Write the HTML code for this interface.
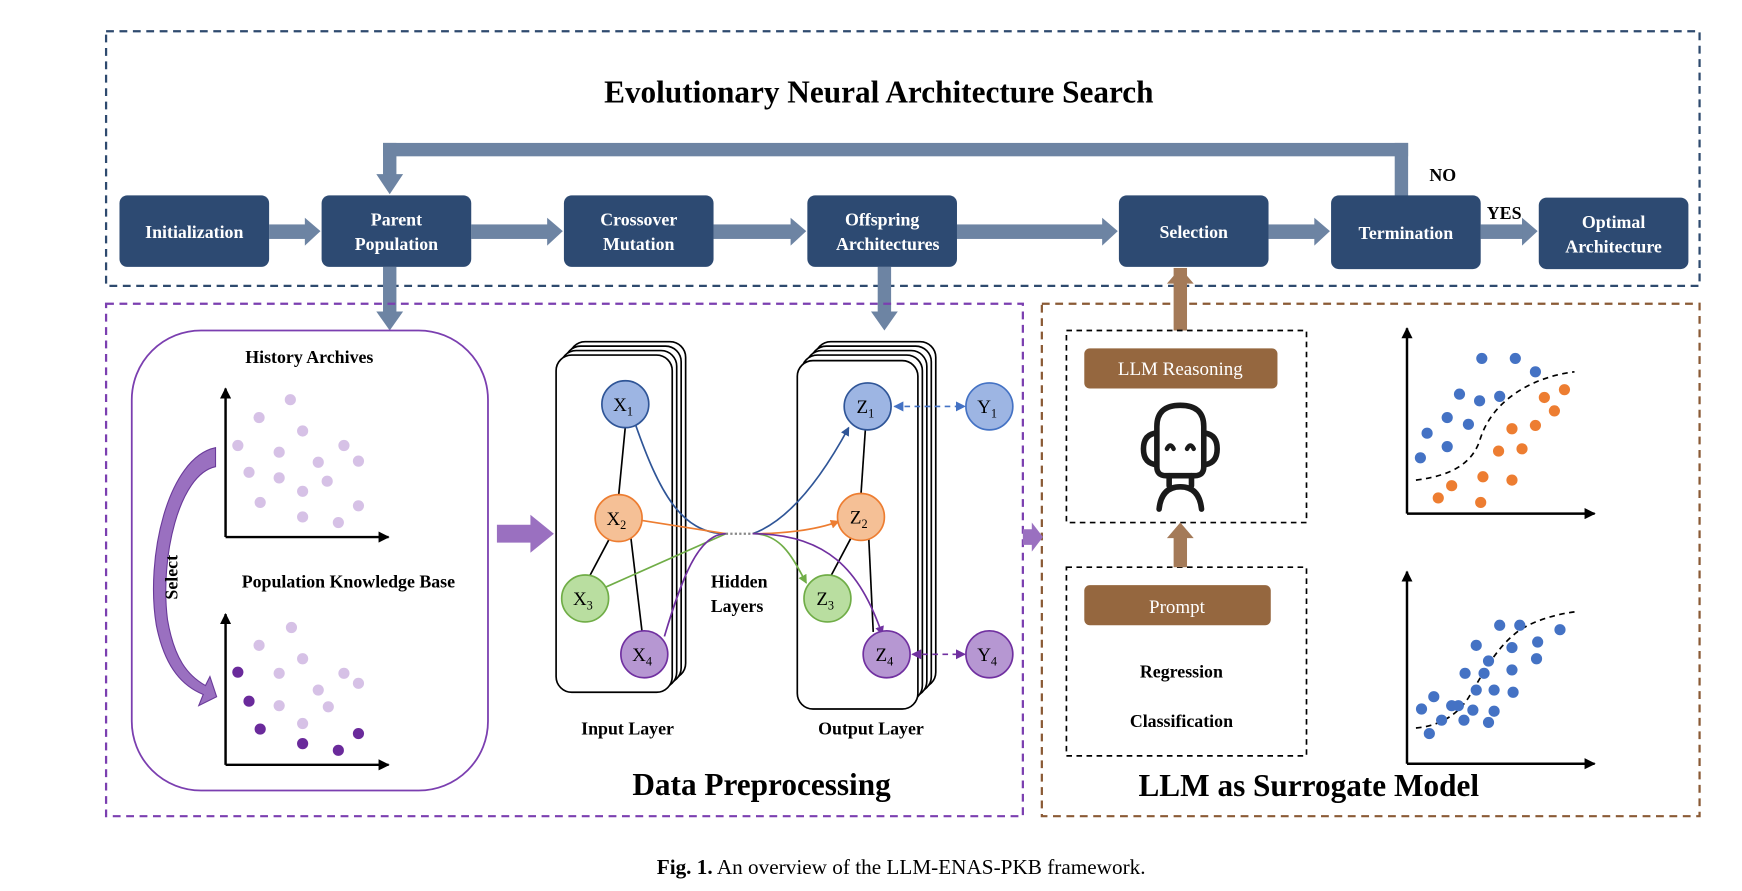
<!DOCTYPE html>
<html><head><meta charset="utf-8"><style>
html,body{margin:0;padding:0;background:#fff;}
svg{display:block;}
text{font-family:"Liberation Serif",serif;}
</style></head><body>
<svg width="1742" height="891" viewBox="0 0 1560 798" preserveAspectRatio="none" xmlns="http://www.w3.org/2000/svg">
<defs>
<marker id="ab" markerWidth="8" markerHeight="8" refX="7" refY="4" orient="auto" markerUnits="userSpaceOnUse"><path d="M0,0 L8,4 L0,8 z" fill="#2f5597"/></marker>
<marker id="ao" markerWidth="8" markerHeight="8" refX="7" refY="4" orient="auto" markerUnits="userSpaceOnUse"><path d="M0,0 L8,4 L0,8 z" fill="#ed7d31"/></marker>
<marker id="ag" markerWidth="8" markerHeight="8" refX="7" refY="4" orient="auto" markerUnits="userSpaceOnUse"><path d="M0,0 L8,4 L0,8 z" fill="#70ad47"/></marker>
<marker id="ap" markerWidth="8" markerHeight="8" refX="7" refY="4" orient="auto" markerUnits="userSpaceOnUse"><path d="M0,0 L8,4 L0,8 z" fill="#7030a0"/></marker>
<marker id="ak" markerWidth="10" markerHeight="10" refX="9" refY="5" orient="auto" markerUnits="userSpaceOnUse"><path d="M0,0 L10,5 L0,10 z" fill="#000"/></marker>
<marker id="abl" markerWidth="9" markerHeight="9" refX="8" refY="4.5" orient="auto-start-reverse" markerUnits="userSpaceOnUse"><path d="M0,0 L9,4.5 L0,9 z" fill="#4472c4"/></marker>
<marker id="apl" markerWidth="9" markerHeight="9" refX="8" refY="4.5" orient="auto-start-reverse" markerUnits="userSpaceOnUse"><path d="M0,0 L9,4.5 L0,9 z" fill="#7030a0"/></marker>
</defs>

<!-- top dashed box -->
<rect x="95" y="28" width="1427" height="228" fill="none" stroke="#2e4a6e" stroke-width="2" stroke-dasharray="7,5"/>
<text x="787" y="92" font-size="28" font-weight="bold" text-anchor="middle">Evolutionary Neural Architecture Search</text>

<!-- feedback loop -->
<g fill="#6d84a3">
<rect x="1249" y="128" width="12" height="48"/>
<rect x="343" y="128" width="918" height="12"/>
<rect x="343" y="128" width="12" height="30"/>
<polygon points="337,156 361,156 349,174"/>
<!-- horizontal arrows -->
<rect x="241" y="201" width="34" height="13"/><polygon points="273,195 273,220 287,207"/>
<rect x="422" y="201" width="70" height="13"/><polygon points="490,195 490,220 504,207"/>
<rect x="639" y="201" width="71" height="13"/><polygon points="708,195 708,220 722,207"/>
<rect x="857" y="201" width="132" height="13"/><polygon points="987,195 987,220 1001,207"/>
<rect x="1136" y="201" width="43" height="13"/><polygon points="1177,195 1177,220 1191,207"/>
<rect x="1326" y="201" width="39" height="13"/><polygon points="1363,195 1363,220 1377,207"/>
<!-- down arrows -->
<rect x="343" y="239" width="12" height="42"/><polygon points="337,279 361,279 349,296"/>
<rect x="786" y="239" width="12" height="42"/><polygon points="780,279 804,279 792,296"/>
</g>
<g fill="#2d4a72">
<rect x="107" y="175" width="134" height="64" rx="7"/>
<rect x="288" y="175" width="134" height="64" rx="7"/>
<rect x="505" y="175" width="134" height="64" rx="7"/>
<rect x="723" y="175" width="134" height="64" rx="7"/>
<rect x="1002" y="175" width="134" height="64" rx="7"/>
<rect x="1192" y="175" width="134" height="66" rx="7"/>
<rect x="1378" y="177" width="134" height="64" rx="7"/>
</g>
<g fill="#fff" font-size="16" font-weight="bold" text-anchor="middle">
<text x="174" y="213">Initialization</text>
<text x="355" y="202">Parent</text><text x="355" y="224">Population</text>
<text x="572" y="202">Crossover</text><text x="572" y="224">Mutation</text>
<text x="790" y="202">Offspring</text><text x="795" y="224">Architectures</text>
<text x="1069" y="213">Selection</text>
<text x="1259" y="214">Termination</text>
<text x="1445" y="204">Optimal</text><text x="1445" y="226">Architecture</text>
</g>
<text x="1292" y="162" font-size="16" font-weight="bold" text-anchor="middle">NO</text>
<text x="1347" y="196" font-size="16" font-weight="bold" text-anchor="middle">YES</text>

<!-- lower dashed boxes -->
<rect x="95" y="272" width="821" height="459" fill="none" stroke="#7b3fb0" stroke-width="2" stroke-dasharray="7,5"/>
<rect x="933" y="272" width="589" height="459" fill="none" stroke="#8a5a35" stroke-width="2" stroke-dasharray="7,5"/>

<!-- left rounded box -->
<rect x="118" y="296" width="319" height="412" rx="62" fill="none" stroke="#7b3fb0" stroke-width="1.6"/>
<text x="277" y="325" font-size="16" font-weight="bold" text-anchor="middle">History Archives</text>
<text x="312" y="526" font-size="16" font-weight="bold" text-anchor="middle">Population Knowledge Base</text>
<g stroke="#000" stroke-width="2.2" fill="none">
<path d="M202,481 V348" marker-end="url(#ak)"/><path d="M202,481 H348" marker-end="url(#ak)"/>
<path d="M202,685 V550" marker-end="url(#ak)"/><path d="M202,685 H348" marker-end="url(#ak)"/>
</g>
<g fill="#d6c1e6">
<circle cx="260" cy="358" r="5"/><circle cx="232" cy="374" r="5"/><circle cx="271" cy="386" r="5"/><circle cx="213" cy="399" r="5"/><circle cx="250" cy="405" r="5"/><circle cx="308" cy="399" r="5"/><circle cx="285" cy="414" r="5"/><circle cx="321" cy="413" r="5"/><circle cx="223" cy="423" r="5"/><circle cx="250" cy="428" r="5"/><circle cx="293" cy="431" r="5"/><circle cx="271" cy="440" r="5"/><circle cx="233" cy="450" r="5"/><circle cx="321" cy="453" r="5"/><circle cx="271" cy="463" r="5"/><circle cx="303" cy="468" r="5"/>
<circle cx="261" cy="562" r="5"/><circle cx="232" cy="578" r="5"/><circle cx="271" cy="590" r="5"/><circle cx="308" cy="603" r="5"/><circle cx="250" cy="603" r="5"/><circle cx="285" cy="618" r="5"/><circle cx="321" cy="612" r="5"/><circle cx="250" cy="632" r="5"/><circle cx="294" cy="633" r="5"/><circle cx="271" cy="648" r="5"/>
</g>
<g fill="#6a2a9b">
<circle cx="213" cy="602" r="5"/><circle cx="223" cy="628" r="5"/><circle cx="233" cy="653" r="5"/><circle cx="271" cy="666" r="5"/><circle cx="303" cy="672" r="5"/><circle cx="321" cy="657" r="5"/>
</g>
<!-- select arrow -->
<path d="M193,401 C150,410 130,500 140,560 C148,600 165,615 182,622 L178,632 L194,624 L188,606 L184,614 C168,605 156,590 150,555 C143,500 160,425 193,418 Z" fill="#9a70c0" stroke="#6a3a9a" stroke-width="1"/>
<text x="159" y="517" font-size="16" font-weight="bold" text-anchor="middle" transform="rotate(-90 159 517)">Select</text>

<!-- big purple arrow -->
<polygon points="445,470 475,470 475,461 496,478 475,495 475,486 445,486" fill="#9a70c0"/>
<polygon points="916,474 924,474 924,468 934,481 924,494 924,488 916,488" fill="#9a70c0"/>

<!-- input stack -->
<g fill="#fff" stroke="#000" stroke-width="1.5">
<rect x="510" y="306" width="104" height="302" rx="14"/>
<rect x="506" y="310" width="104" height="302" rx="14"/>
<rect x="502" y="314" width="104" height="302" rx="14"/>
<rect x="498" y="318" width="104" height="302" rx="14"/>
<rect x="730" y="306" width="108" height="310" rx="14"/>
<rect x="726" y="310" width="108" height="310" rx="14"/>
<rect x="722" y="314" width="108" height="310" rx="14"/>
<rect x="718" y="318" width="108" height="310" rx="14"/>
<rect x="714" y="323" width="108" height="312" rx="14"/>
</g>
<g stroke="#000" stroke-width="1.5">
<line x1="560" y1="382" x2="554" y2="444"/><line x1="546" y1="482" x2="528" y2="516"/><line x1="565" y1="482" x2="575" y2="566"/>
<line x1="775" y1="384" x2="771" y2="443"/><line x1="762" y1="482" x2="744" y2="516"/><line x1="778" y1="482" x2="782" y2="566"/>
</g>
<line x1="650" y1="478" x2="674" y2="478" stroke="#888" stroke-width="2" stroke-dasharray="2,2"/>
<g fill="none" stroke-width="1.5">
<path d="M569,380 C590,440 610,478 650,478" stroke="#2f5597"/>
<path d="M574,466 L650,478" stroke="#ed7d31"/>
<path d="M542,526 L650,478" stroke="#70ad47"/>
<path d="M595,570 C610,520 625,478 650,478" stroke="#7030a0"/>
<path d="M674,478 C710,465 740,420 760,383" stroke="#2f5597" marker-end="url(#ab)"/>
<path d="M674,478 C700,478 730,475 751,467" stroke="#ed7d31" marker-end="url(#ao)"/>
<path d="M674,478 C700,478 710,500 722,522" stroke="#70ad47" marker-end="url(#ag)"/>
<path d="M674,478 C740,478 770,510 790,568" stroke="#7030a0" marker-end="url(#ap)"/>
<path d="M801,364 L864,364" stroke="#4472c4" stroke-dasharray="5,4" marker-start="url(#abl)" marker-end="url(#abl)"/>
<path d="M817,586 L864,586" stroke="#7030a0" stroke-dasharray="5,4" marker-start="url(#apl)" marker-end="url(#apl)"/>
</g>
<g stroke-width="1.5">
<circle cx="560" cy="362" r="21" fill="#9db5e3" stroke="#2f5597"/>
<circle cx="554" cy="464" r="21" fill="#f5c096" stroke="#ed7d31"/>
<circle cx="524" cy="536" r="21" fill="#b9dea0" stroke="#70ad47"/>
<circle cx="577" cy="586" r="21" fill="#b697d2" stroke="#7030a0"/>
<circle cx="777" cy="364" r="21" fill="#9db5e3" stroke="#2f5597"/>
<circle cx="771" cy="463" r="21" fill="#f5c096" stroke="#ed7d31"/>
<circle cx="741" cy="536" r="21" fill="#b9dea0" stroke="#70ad47"/>
<circle cx="794" cy="586" r="21" fill="#b697d2" stroke="#7030a0"/>
<circle cx="886" cy="364" r="21" fill="#9db5e3" stroke="#4472c4"/>
<circle cx="886" cy="586" r="21" fill="#b697d2" stroke="#7030a0"/>
</g>
<g font-size="17" text-anchor="middle">
<text x="558" y="368">X<tspan font-size="11" dy="4">1</tspan></text>
<text x="552" y="470">X<tspan font-size="11" dy="4">2</tspan></text>
<text x="522" y="542">X<tspan font-size="11" dy="4">3</tspan></text>
<text x="575" y="592">X<tspan font-size="11" dy="4">4</tspan></text>
<text x="775" y="370">Z<tspan font-size="11" dy="4">1</tspan></text>
<text x="769" y="469">Z<tspan font-size="11" dy="4">2</tspan></text>
<text x="739" y="542">Z<tspan font-size="11" dy="4">3</tspan></text>
<text x="792" y="592">Z<tspan font-size="11" dy="4">4</tspan></text>
<text x="884" y="370">Y<tspan font-size="11" dy="4">1</tspan></text>
<text x="884" y="592">Y<tspan font-size="11" dy="4">4</tspan></text>
</g>
<g font-size="16" font-weight="bold" text-anchor="middle">
<text x="662" y="526">Hidden</text><text x="660" y="548">Layers</text>
<text x="562" y="658">Input Layer</text><text x="780" y="658">Output Layer</text>
</g>
<text x="682" y="712" font-size="28" font-weight="bold" text-anchor="middle">Data Preprocessing</text>

<!-- LLM section -->
<rect x="1051" y="240" width="12" height="56" fill="#a47a58"/>
<polygon points="1045,254 1069,254 1057,240" fill="#a47a58"/>
<rect x="955" y="296" width="215" height="172" fill="none" stroke="#000" stroke-width="1.5" stroke-dasharray="5,4"/>
<rect x="955" y="508" width="215" height="169" fill="none" stroke="#000" stroke-width="1.5" stroke-dasharray="5,4"/>
<rect x="1051" y="480" width="12" height="28" fill="#a47a58"/>
<polygon points="1045,482 1069,482 1057,468" fill="#a47a58"/>
<rect x="971" y="312" width="173" height="36" rx="5" fill="#95673f"/>
<text x="1057" y="336" font-size="17" fill="#fff" text-anchor="middle">LLM Reasoning</text>
<rect x="971" y="524" width="167" height="36" rx="5" fill="#95673f"/>
<text x="1054" y="549" font-size="17" fill="#fff" text-anchor="middle">Prompt</text>
<!-- robot -->
<g fill="none" stroke="#1a1a1a" stroke-width="5" stroke-linecap="round">
<path d="M1036,418 V382 Q1036,363 1057,363 Q1078,363 1078,382 V418 Q1078,426 1070,426 H1044 Q1036,426 1036,418 Z"/>
<path d="M1034,388 Q1024,390 1024,402 Q1024,414 1034,416"/>
<path d="M1080,388 Q1090,390 1090,402 Q1090,414 1080,416"/>
<path d="M1047,426 V435 M1067,426 V435"/>
<path d="M1038,456 Q1040,436 1057,436 Q1074,436 1076,456"/>
<path d="M1045,402 Q1048,396 1051,402 M1063,402 Q1066,396 1069,402" stroke-width="4"/>
</g>
<g font-size="16" font-weight="bold" text-anchor="middle">
<text x="1058" y="607">Regression</text><text x="1058" y="651">Classification</text>
</g>
<text x="1172" y="713" font-size="28" font-weight="bold" text-anchor="middle">LLM as Surrogate Model</text>
<!-- plots -->
<g stroke="#000" stroke-width="2.2" fill="none">
<path d="M1260,460 V294" marker-end="url(#ak)"/><path d="M1260,460 H1428" marker-end="url(#ak)"/>
<path d="M1260,684 V512" marker-end="url(#ak)"/><path d="M1260,684 H1428" marker-end="url(#ak)"/>
<path d="M1268,430 C1300,426 1318,415 1325,395 C1335,360 1370,338 1410,333" stroke-width="1.5" stroke-dasharray="5,4"/>
<path d="M1268,652 C1290,650 1305,640 1315,625 C1330,600 1340,580 1360,565 C1375,555 1395,550 1410,548" stroke-width="1.5" stroke-dasharray="5,4"/>
</g>
<g fill="#4472c4">
<circle cx="1327" cy="321" r="5"/><circle cx="1357" cy="321" r="5"/><circle cx="1375" cy="333" r="5"/><circle cx="1343" cy="355" r="5"/><circle cx="1307" cy="353" r="5"/><circle cx="1325" cy="359" r="5"/><circle cx="1296" cy="374" r="5"/><circle cx="1315" cy="380" r="5"/><circle cx="1278" cy="388" r="5"/><circle cx="1296" cy="400" r="5"/><circle cx="1272" cy="410" r="5"/>
<circle cx="1343" cy="560" r="5"/><circle cx="1361" cy="560" r="5"/><circle cx="1322" cy="578" r="5"/><circle cx="1354" cy="580" r="5"/><circle cx="1377" cy="575" r="5"/><circle cx="1397" cy="564" r="5"/><circle cx="1333" cy="592" r="5"/><circle cx="1376" cy="590" r="5"/><circle cx="1312" cy="603" r="5"/><circle cx="1329" cy="603" r="5"/><circle cx="1354" cy="600" r="5"/><circle cx="1322" cy="618" r="5"/><circle cx="1338" cy="618" r="5"/><circle cx="1355" cy="620" r="5"/><circle cx="1306" cy="632" r="5"/><circle cx="1319" cy="636" r="5"/><circle cx="1338" cy="637" r="5"/><circle cx="1284" cy="624" r="5"/><circle cx="1300" cy="632" r="5"/><circle cx="1273" cy="635" r="5"/><circle cx="1291" cy="645" r="5"/><circle cx="1311" cy="645" r="5"/><circle cx="1280" cy="657" r="5"/><circle cx="1333" cy="647" r="5"/>
</g>
<g fill="#ed7d31">
<circle cx="1401" cy="349" r="5"/><circle cx="1383" cy="356" r="5"/><circle cx="1392" cy="368" r="5"/><circle cx="1375" cy="381" r="5"/><circle cx="1354" cy="384" r="5"/><circle cx="1342" cy="404" r="5"/><circle cx="1363" cy="402" r="5"/><circle cx="1328" cy="427" r="5"/><circle cx="1354" cy="430" r="5"/><circle cx="1300" cy="435" r="5"/><circle cx="1288" cy="446" r="5"/><circle cx="1326" cy="450" r="5"/>
</g>

<!-- caption -->
<text x="807" y="783" font-size="19" text-anchor="middle"><tspan font-weight="bold">Fig. 1.</tspan> An overview of the LLM-ENAS-PKB framework.</text>
</svg>
</body></html>
